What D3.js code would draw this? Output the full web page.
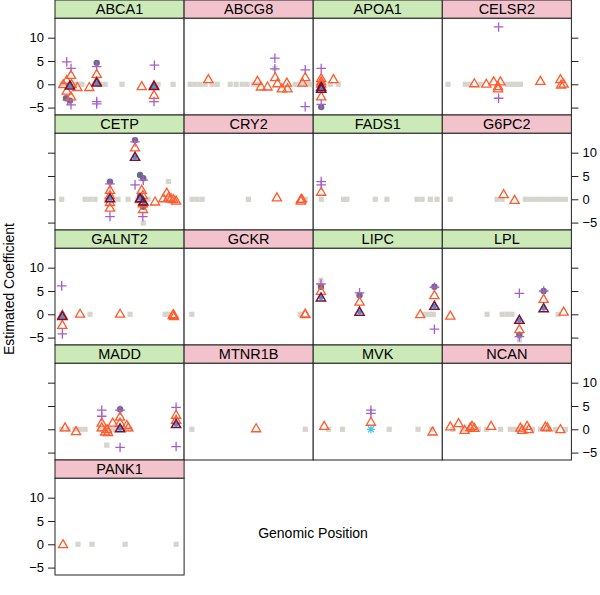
<!DOCTYPE html>
<html><head><meta charset="utf-8">
<script src="https://cdn.jsdelivr.net/npm/d3@7"></script>
<style>body{margin:0;background:#fff}svg{display:block}</style>
</head><body>
<script>
// ---------------- data ----------------
const genes = ["ABCA1","ABCG8","APOA1","CELSR2","CETP","CRY2","FADS1","G6PC2",
  "GALNT2","GCKR","LIPC","LPL","MADD","MTNR1B","MVK","NCAN","PANK1"];
const greenGenes = ["ABCA1","APOA1","CETP","FADS1","GALNT2","LIPC","LPL","MADD","MVK"];
const yTicks = [-5, 0, 5, 10];
const yDomain = [-6.59, 14.16];
const xDomain = [0, 100]; // relative genomic position within gene region

// [gene, position, coefficient]
const snpsTested = [
 ["ABCA1",5.4,0],["ABCA1",8.5,0],["ABCA1",11.6,0],["ABCA1",14.7,0],["ABCA1",17.8,0],["ABCA1",20.9,0],["ABCA1",35,0],["ABCA1",38.8,0],["ABCA1",51.9,0],["ABCA1",79.8,0],["ABCA1",91.5,0],
 ["ABCG8",4.7,0],["ABCG8",8.5,0],["ABCG8",12.4,0],["ABCG8",16.3,0],["ABCG8",21.7,0],["ABCG8",25.6,0],["ABCG8",35.7,0],["ABCG8",40.3,0],["ABCG8",45,0],["ABCG8",48.8,0],["ABCG8",53.5,0],["ABCG8",57.4,0],["ABCG8",86,0],["ABCG8",89.9,0],["ABCG8",93.8,0],["ABCG8",97.7,0],["ABCG8",70.3,3.4],
 ["APOA1",6.2,0],["APOA1",13.2,0],["APOA1",19.4,0],
 ["CELSR2",4.4,0],["CELSR2",17.8,0],["CELSR2",21.7,0],["CELSR2",29.5,0],["CELSR2",50.2,0],["CELSR2",54,0],["CELSR2",57.4,0],["CELSR2",60.5,0],
 ["CETP",5.2,0],["CETP",23.3,0],["CETP",27.1,0],["CETP",31,0],["CETP",40.1,0],["CETP",48.8,0],["CETP",56.6,0],["CETP",64.3,0],["CETP",72.1,0],["CETP",86.6,0],["CETP",87.8,3.8],["CETP",68.4,-5.1],["CETP",62,12.7],
 ["CRY2",6.2,0],["CRY2",10.1,0],["CRY2",14,0],["CRY2",49.8,0],["CRY2",93.8,0],
 ["FADS1",6.2,0],["FADS1",23.5,0],["FADS1",26.1,0],["FADS1",48.1,0],["FADS1",57.1,0],["FADS1",80.4,0],["FADS1",84.3,0],["FADS1",90.7,0],["FADS1",95.9,0],
 ["G6PC2",6.2,0],["G6PC2",42.4,0],["G6PC2",46.3,0],["G6PC2",64.3,0],["G6PC2",68.2,0],["G6PC2",72.1,0],["G6PC2",76,0],["G6PC2",79.8,0],["G6PC2",83.7,0],["G6PC2",87.6,0],["G6PC2",91.5,0],["G6PC2",95.3,0],
 ["GALNT2",5.4,0],["GALNT2",27.1,0],["GALNT2",58.1,0],["GALNT2",85.3,0],["GALNT2",87.6,0],
 ["GCKR",6,0],["GCKR",89.9,0],
 ["LIPC",6,7.3],["LIPC",86.8,0],["LIPC",89.9,0],["LIPC",93,0],
 ["LPL",34.7,0],["LPL",46.3,0],["LPL",50.2,0],["LPL",54,0],["LPL",59.7,-5.5],["LPL",89.7,0],
 ["MADD",5.2,0],["MADD",10.1,0],["MADD",15.5,0],["MADD",19.4,0],["MADD",23.3,0],["MADD",34.9,0],["MADD",38.8,0],["MADD",42.6,0],["MADD",46.5,0],["MADD",50.4,0],["MADD",54.3,0],["MADD",58.1,0],["MADD",40.1,-3.4],
 ["MTNR1B",6,0],["MTNR1B",93.8,0],
 ["MVK",11.9,0],["MVK",22.7,0],["MVK",58.9,0],["MVK",81.2,0],["MVK",92,0],
 ["NCAN",7.8,0],["NCAN",15.5,0],["NCAN",21.7,0],["NCAN",27.9,0],["NCAN",34.1,0],["NCAN",45,0],["NCAN",52.7,0],["NCAN",56.6,0],["NCAN",60.5,0],["NCAN",64.3,0],["NCAN",69.8,0],["NCAN",76,0],["NCAN",82.2,0],["NCAN",87.6,0],["NCAN",95.3,0],
 ["PANK1",17.8,0],["PANK1",28.7,0],["PANK1",54.3,0],["PANK1",93.8,0]
];

const marginalEst = [ // orange open triangles
 ["ABCA1",6.4,0],["ABCA1",9.1,0.9],["ABCA1",12.4,2],["ABCA1",12.9,0],["ABCA1",17.3,-0.6],["ABCA1",9.1,-1.4],["ABCA1",12.4,-2.6],["ABCA1",26.6,-0.6],["ABCA1",32.3,2.2],["ABCA1",32.3,0.6],["ABCA1",67.2,-0.4],["ABCA1",76.7,-0.2],["ABCA1",76.7,-2.3],
 ["ABCG8",18.8,1.1],["ABCG8",56.8,0.7],["ABCG8",59.5,-0.5],["ABCG8",64.6,-0.5],["ABCG8",70.5,1.5],["ABCG8",72.3,0.2],["ABCG8",75.7,-0.9],["ABCG8",79.6,0.35],["ABCG8",80.1,-0.9],["ABCG8",91.7,0.35],["ABCG8",93.8,1.5],
 ["APOA1",6.2,1.3],["APOA1",6.2,0.6],["APOA1",6.2,0.1],["APOA1",6.2,-2.6],["APOA1",15.7,1.1],
 ["CELSR2",24.8,0.2],["CELSR2",34.1,0.1],["CELSR2",39.8,0.6],["CELSR2",43.2,-0.9],["CELSR2",43.2,-0.4],["CELSR2",45,0.6],["CELSR2",76,0.7],["CELSR2",91.5,1.1],["CELSR2",92,-0.1],["CELSR2",94,0.1],
 ["CETP",42.6,2],["CETP",42.6,0.9],["CETP",42.6,-0.6],["CETP",42.6,-1.8],["CETP",62,11.1],["CETP",67.2,2],["CETP",68,0.9],["CETP",65.9,0],["CETP",68,-0.9],["CETP",68.2,-2.1],["CETP",77.5,-0.5],["CETP",86.6,1.4],["CETP",87.8,0.4],["CETP",89.9,0.2],["CETP",91.7,0],["CETP",93.8,-0.3],["CETP",84,0.2],
 ["CRY2",71.9,0.4],["CRY2",90.5,0],["CRY2",90.5,-0.3],["CRY2",91.2,0.1],
 ["FADS1",6.2,1.6],
 ["G6PC2",47.5,1.1],["G6PC2",56,-0.15],
 ["GALNT2",5.7,-2.3],["GALNT2",5.7,-0.15],["GALNT2",19.4,0.1],["GALNT2",50.4,0.1],["GALNT2",91.7,0],["GALNT2",92.2,-0.4],["GALNT2",91.2,-0.2],
 ["GCKR",93.8,0],["GCKR",93.8,0.15],
 ["LIPC",6,5],["LIPC",35.9,2.7],["LIPC",82.9,0],["LIPC",93.9,4.1],
 ["LPL",6.2,-0.3],["LPL",59.7,-3.2],["LPL",78.5,3.3],["LPL",94,0.55],
 ["MADD",7.8,0.4],["MADD",16.3,-0.4],["MADD",36.2,1.4],["MADD",36.2,0.4],["MADD",38.8,-0.5],["MADD",40.3,0],["MADD",41.1,-0.6],["MADD",44.7,1.4],["MADD",50.4,2.7],["MADD",50.4,1.4],["MADD",55.6,0.9],["MADD",56.8,0.4],["MADD",93.8,3.1],["MADD",93.8,2],
 ["MTNR1B",55.8,0.2],
 ["MVK",8.5,0.7],["MVK",44.7,1.6],["MVK",92.5,-0.5],
 ["NCAN",6.2,0.6],["NCAN",12.6,1.3],["NCAN",17.3,-0.15],["NCAN",21.7,0.4],["NCAN",23,0.7],["NCAN",24.8,0.3],["NCAN",37.8,0.7],["NCAN",60.5,0.35],["NCAN",61.8,-0.15],["NCAN",65.7,0.7],["NCAN",66.9,0],["NCAN",79.8,0.55],["NCAN",81.4,0.4],["NCAN",91.5,0],
 ["PANK1",6.2,0]
];

const intervalEnds = [ // purple plus signs
 ["ABCA1",9.1,4.8],["ABCA1",12.4,3.4],["ABCA1",9.8,-3.4],["ABCA1",12.4,-4.4],["ABCA1",32.3,3.8],["ABCA1",32.3,-3.7],["ABCA1",32.3,-4.2],["ABCA1",77,4.1],["ABCA1",76.7,-3.7],
 ["ABCG8",70.3,5.6],["ABCG8",70.3,3.3],["ABCG8",93.8,3.1],["ABCG8",93.8,-4.8],
 ["APOA1",6.2,3.4],["APOA1",6.2,-4.3],
 ["CELSR2",43.6,12.3],["CELSR2",43.6,-3],
 ["CETP",62,12.3],["CETP",42.6,3.3],["CETP",42.6,-3.7],["CETP",68.4,4.1],["CETP",62,3.1],["CETP",68,-3.7],
 ["FADS1",6.2,3.8],["FADS1",6.2,3.1],
 ["GALNT2",5.2,6.1],["GALNT2",5.7,-4.2],
 ["LIPC",6,6.5],["LIPC",35.9,4.6],["LIPC",93.9,5.8],["LIPC",93.9,-3.2],
 ["LPL",59.7,4.5],["LPL",59.7,-4.8],["LPL",78.5,5],
 ["MADD",36.2,4.1],["MADD",36.2,2.8],["MADD",50.4,4.1],["MADD",50.4,-3.9],["MADD",93.8,4.7],["MADD",93.8,-3.7],
 ["MVK",44.7,4.1],["MVK",44.7,3.4]
];

const jointEst = [ // dark filled circles
 ["ABCA1",32.3,4.6],["ABCA1",8.5,-3],["ABCA1",11.6,-3.5],["ABCA1",76.7,-0.5],
 ["APOA1",6.2,-4.9],["APOA1",6.2,-0.2],
 ["CETP",62,12.7],["CETP",42.6,3.8],["CETP",65.9,5.2],["CETP",68.4,4.5],["CETP",65.9,0.6],["CETP",68.4,-1.6],
 ["LIPC",6,5.9],["LIPC",35.9,4.1],["LIPC",93.9,5.9],
 ["LPL",59.7,-4.4],["LPL",78.5,5],
 ["MADD",50.4,4.3]
];

const selectedEst = [ // dark triangles with blue centre
 ["ABCA1",32.3,0.35],["ABCA1",11.6,-0.3],["ABCA1",76.7,-0.4],
 ["APOA1",6.2,-0.6],["APOA1",6.2,-1],
 ["CETP",62,9.1],["CETP",42.6,0.2],["CETP",65.9,0.2],["CETP",68.4,-0.5],
 ["GALNT2",5.7,-0.4],
 ["LIPC",6,3.6],["LIPC",35.9,0.55],["LIPC",93.9,1.8],
 ["LPL",59.7,-1.2],["LPL",78.5,1.3],
 ["MADD",93.8,1.1],["MADD",50.4,0.2]
];

const otherEst = [ // cyan asterisk
 ["MVK",44.7,0]
];

// ---------------- layout ----------------
const W = 600, H = 595;
const nCol = 4;
const colLeft = 55, panelW = 129.1;
const stripH = 18.3, panelH = 96.7, rowPitch = 115;

const svg = d3.select("body").append("svg").attr("width", W).attr("height", H)
  .style("font-family", "Helvetica, Arial, 'Liberation Sans', sans-serif");

const x = d3.scaleLinear().domain(xDomain).range([0, panelW]);
const y = d3.scaleLinear().domain(yDomain).range([panelH, 0]);

const nRow = Math.ceil(genes.length / nCol);

genes.forEach((g, i) => {
  const c = i % nCol, r = Math.floor(i / nCol);
  const gx = colLeft + c * panelW, gy = r * rowPitch;
  const grp = svg.append("g").attr("transform", `translate(${gx},${gy})`);
  // strip
  grp.append("rect").attr("x", 0).attr("y", 0).attr("width", panelW).attr("height", stripH)
    .attr("fill", greenGenes.includes(g) ? "#cce9b8" : "#f3c3cd")
    .attr("stroke", "#222").attr("stroke-width", 1);
  grp.append("text").attr("x", panelW / 2).attr("y", stripH / 2 + 5)
    .attr("text-anchor", "middle").attr("font-size", 14.5).attr("fill", "#000").text(g);
  const p = grp.append("g").attr("transform", `translate(0,${stripH})`);
  p.append("rect").attr("width", panelW).attr("height", panelH)
    .attr("fill", "#fff").attr("stroke", "#222").attr("stroke-width", 1);

  // axes: left on first column, right on last panel of row
  const lastInRow = (c === nCol - 1) || (i === genes.length - 1);
  const labelLeft = (r % 2 === 0);
  if (c === 0) {
    const ax = d3.axisLeft(y).tickValues(yTicks).tickSize(7).tickPadding(4)
      .tickFormat(labelLeft ? (d => d < 0 ? "\u2212" + Math.abs(d) : d) : "");
    const a = p.append("g").call(ax);
    a.select(".domain").remove();
    a.selectAll("line").attr("stroke", "#222");
    a.selectAll("text").attr("font-size", 13).attr("fill", "#000").style("font-family", "Helvetica, Arial, 'Liberation Sans', sans-serif");
  }
  if (c === nCol - 1) {
    const ax = d3.axisRight(y).tickValues(yTicks).tickSize(7).tickPadding(4)
      .tickFormat(!labelLeft ? (d => d < 0 ? "\u2212" + Math.abs(d) : d) : "");
    const a = p.append("g").attr("transform", `translate(${panelW},0)`).call(ax);
    a.select(".domain").remove();
    a.selectAll("line").attr("stroke", "#222");
    a.selectAll("text").attr("font-size", 13).attr("fill", "#000").style("font-family", "Helvetica, Arial, 'Liberation Sans', sans-serif");
  }

  const clip = p.append("g");
  const sel = arr => arr.filter(d => d[0] === g);

  // tested SNPs: grey squares
  clip.selectAll("rect.sq").data(sel(snpsTested)).join("rect").attr("class", "sq")
    .attr("x", d => x(d[1]) - 2.6).attr("y", d => y(d[2]) - 2.6)
    .attr("width", 5.2).attr("height", 5.2).attr("fill", "#d7d4ce");
  // joint estimates: dark circles
  clip.selectAll("circle.jt").data(sel(jointEst)).join("circle").attr("class", "jt")
    .attr("cx", d => x(d[1])).attr("cy", d => y(d[2])).attr("r", 3.2).attr("fill", "#6d6a88");
  // interval ends: purple plus
  const plus = d3.symbol().type(d3.symbolCross);
  clip.selectAll("path.pl").data(sel(intervalEnds)).join("path").attr("class", "pl")
    .attr("d", d => `M-4.8,0H4.8M0,-4.8V4.8`)
    .attr("transform", d => `translate(${x(d[1])},${y(d[2])})`)
    .attr("stroke", "#a55fc9").attr("stroke-width", 1.3).attr("fill", "none");
  // marginal estimates: orange triangles
  const tri = "M0,-4.6L4.6,3.4L-4.6,3.4Z";
  clip.selectAll("path.tr").data(sel(marginalEst)).join("path").attr("class", "tr")
    .attr("d", tri)
    .attr("transform", d => `translate(${x(d[1])},${y(d[2])})`)
    .attr("stroke", "#ff5b2c").attr("stroke-width", 1.3).attr("fill", "none");
  // selected estimates: blue dot + dark triangle
  clip.selectAll("circle.bl").data(sel(selectedEst)).join("circle").attr("class", "bl")
    .attr("cx", d => x(d[1])).attr("cy", d => y(d[2])).attr("r", 2.5).attr("fill", "#4a90d8");
  clip.selectAll("path.dt").data(sel(selectedEst)).join("path").attr("class", "dt")
    .attr("d", tri)
    .attr("transform", d => `translate(${x(d[1])},${y(d[2])})`)
    .attr("stroke", "#7c1030").attr("stroke-width", 1.5).attr("fill", "none");
  // other: cyan asterisk
  clip.selectAll("path.st").data(sel(otherEst)).join("path").attr("class", "st")
    .attr("d", "M-4,0H4M0,-4V4M-3,-3L3,3M-3,3L3,-3")
    .attr("transform", d => `translate(${x(d[1])},${y(d[2])})`)
    .attr("stroke", "#4cc3e6").attr("stroke-width", 1.2).attr("fill", "none");
});

// axis titles
svg.append("text").attr("x", 313).attr("y", 538).attr("text-anchor", "middle")
  .attr("font-size", 14).attr("fill", "#000").text("Genomic Position");
svg.append("text").attr("transform", "translate(14,289) rotate(-90)").attr("text-anchor", "middle")
  .attr("font-size", 14).attr("fill", "#000").text("Estimated Coefficient");
</script>
</body></html>
